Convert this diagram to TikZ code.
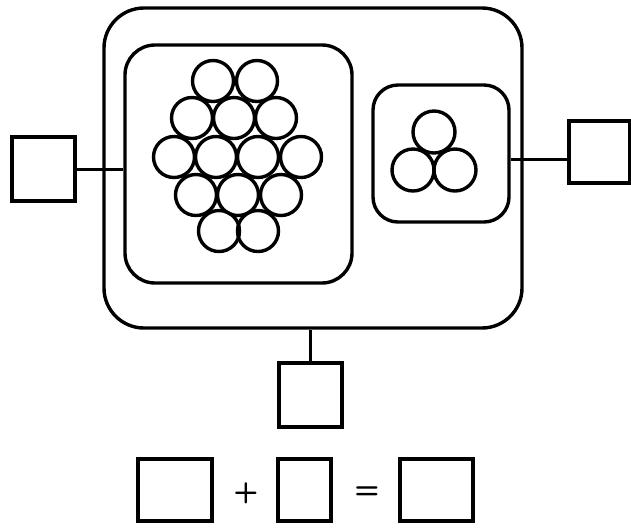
\documentclass[tikz,border=0pt]{standalone}
\usetikzlibrary{calc}
\tikzset{
  frame/.style={draw,line width=1.7pt,rounded corners=#1,inner sep=0pt},
  ball/.style={draw,circle,line width=1.7pt,minimum size=20.5pt,inner sep=0pt},
  blank/.style={draw,line width=1.6pt,inner sep=0pt,minimum width=#1},
  link/.style={line width=1.5pt},
  sign/.style={font=\Large\sffamily\bfseries,inner sep=0pt}
}
\begin{document}
\begin{tikzpicture}[x=0.5pt,y=-0.5pt]
\useasboundingbox (0,0) rectangle (631,527);
% the vessel and its two chambers
\node[frame=20pt,minimum width=209pt,minimum height=160pt] (vessel) at (313,168) {};
\node[frame=15pt,minimum width=113.5pt,minimum height=119pt] (cluster) at (238.5,164) {};
\node[frame=12.5pt,minimum width=68pt,minimum height=68.5pt] (trio) at (441,153.5) {};
% balls of the big cluster
\foreach \x/\y/\n in {213/81/a1,257/81/a2,
  192/118/b1,234/118/b2,276/118/b3,
  174/157/c1,216/157/c2,258/157/c3,301/157/c4,
  196/195/d1,238/195/d2,281/195/d3,
  219/231/e1,258/231/e2}
  \node[ball] (\n) at (\x,\y) {};
% balls of the small one
\node[ball,minimum size=21pt] (t1) at (434,132) {};
\node[ball,minimum size=21pt] (t2) at (413,170) {};
\node[ball,minimum size=21pt] (t3) at (455,170) {};
% answer boxes
\node[blank=31.5pt,minimum height=32pt] (lsq) at (43.5,169) {};
\node[blank=30.5pt,minimum height=31pt] (rsq) at (599.5,152) {};
\node[blank=31.5pt,minimum height=32pt] (bsq) at (310.5,395) {};
\draw[link] (lsq.east) -- (lsq.east -| cluster.west);
\draw[link] ([yshift=-3.5pt]rsq.west) -- ([yshift=-3.5pt]rsq.west -| trio.east);
\draw[link] (bsq.north) -- (bsq.north |- vessel.south);
% the sum
\node[blank=37pt,minimum height=31pt] (sumA) at (175,490) {};
\node[blank=26.5pt,minimum height=31pt] (sumB) at (304.5,490) {};
\node[blank=36.5pt,minimum height=31pt] (sumC) at (436.5,490) {};
\node[sign] (plus) at (246,493) {+};
\node[sign] (equals) at (367,493) {=};
\end{tikzpicture}
\end{document}
